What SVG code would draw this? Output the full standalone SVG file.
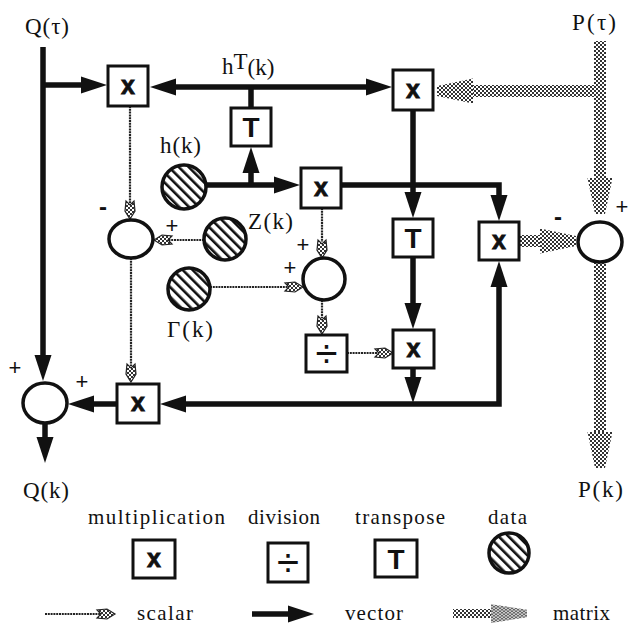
<svg xmlns="http://www.w3.org/2000/svg" xmlns:xlink="http://www.w3.org/1999/xlink" width="630" height="625" viewBox="0 0 630 625">
<style>
.lbl{font-family:'Liberation Serif','Times New Roman',serif;font-size:23px;fill:#111}
.leg{font-family:'Liberation Serif','Times New Roman',serif;font-size:21px;fill:#111}
.sign{font-family:'Liberation Sans',Arial,sans-serif;font-size:22px;fill:#111;text-anchor:middle}
.minus{font-family:'Liberation Sans',Arial,sans-serif;font-weight:bold;font-size:24px;fill:#111;text-anchor:middle}
.box{fill:#fff;stroke:#111;stroke-width:3}
.sum{fill:#fff;stroke:#111;stroke-width:3.5}
.data{fill:url(#hatch);stroke:#111;stroke-width:3.5}
.mx{font-family:'Liberation Sans',Arial,sans-serif;font-weight:bold;font-size:25px;fill:#111;text-anchor:middle;stroke:#111;stroke-width:0.8}
.tt{font-family:'Liberation Sans',Arial,sans-serif;font-weight:bold;font-size:28px;fill:#111;text-anchor:middle}
.dv{font-family:'Liberation Sans',Arial,sans-serif;font-size:40px;fill:#111;text-anchor:middle}
.vec{fill:none;stroke:#111;stroke-width:5.5}
.sca{fill:none;stroke:#222;stroke-width:2.2;stroke-dasharray:2 0.8}
.mat{fill:url(#st)}
</style>
<defs>
<pattern id="st" width="4" height="4" patternUnits="userSpaceOnUse"><rect width="4" height="4" fill="#fff"/><rect width="2" height="2" fill="#333"/><rect x="2" y="2" width="2" height="2" fill="#333"/></pattern>
<pattern id="hatch" width="7" height="7" patternUnits="userSpaceOnUse" patternTransform="rotate(-45)"><rect width="7" height="7" fill="#fff"/><rect width="2.6" height="7" fill="#111"/></pattern>
<path id="vh" d="M0,0 L-26,-8.5 L-26,8.5 z" fill="#111"/>
<path id="sh" d="M0,0 L-8,-5 L-18,-4 L-14,0 L-18,4 L-8,5 z" fill="url(#st)" stroke="#222" stroke-width="1.2"/>
<path id="mh" d="M0,-5 L0,5 L-36,12.5 L-36,-12.5 z" fill="url(#st)"/>
</defs>
<rect width="630" height="625" fill="#fff"/>

<g id="connectors">
  <!-- vector -->
  <path class="vec" d="M43,47 V360"/><use xlink:href="#vh" transform="translate(43,381) rotate(90)"/>
  <path class="vec" d="M43,85 H86"/><use xlink:href="#vh" transform="translate(107,85)"/>
  <path class="vec" d="M170,87 H370"/><use xlink:href="#vh" transform="translate(150,87) rotate(180)"/><use xlink:href="#vh" transform="translate(392,87)"/>
  <path class="vec" d="M251,87 V108"/>
  <path class="vec" d="M206,185 H280"/><use xlink:href="#vh" transform="translate(300,185)"/>
  <path class="vec" d="M251,185 V168"/><use xlink:href="#vh" transform="translate(251,147) rotate(-90)"/>
  <path class="vec" d="M341,185 H499 V200"/><use xlink:href="#vh" transform="translate(499,221) rotate(90)"/>
  <path class="vec" d="M413,110 V198"/><use xlink:href="#vh" transform="translate(413,218) rotate(90)"/>
  <path class="vec" d="M413,257 V310"/><use xlink:href="#vh" transform="translate(413,329) rotate(90)"/>
  <path class="vec" d="M413,368 V382"/><use xlink:href="#vh" transform="translate(413,403) rotate(90)"/>
  <path class="vec" d="M180,404 H499 V280"/><use xlink:href="#vh" transform="translate(160,404) rotate(180)"/><use xlink:href="#vh" transform="translate(499,261) rotate(-90)"/>
  <path class="vec" d="M117,404 H88"/><use xlink:href="#vh" transform="translate(68,404) rotate(180)"/>
  <path class="vec" d="M45,423 V444"/><use xlink:href="#vh" transform="translate(45,463) rotate(90)"/>
  <!-- scalar -->
  <path class="sca" d="M130,106 V203"/><use xlink:href="#sh" transform="translate(130,219) rotate(90)"/>
  <path class="sca" d="M204,240 H168"/><use xlink:href="#sh" transform="translate(154,240) rotate(180)"/>
  <path class="sca" d="M131,258 V366"/><use xlink:href="#sh" transform="translate(131,382) rotate(90)"/>
  <path class="sca" d="M210,287 H289"/><use xlink:href="#sh" transform="translate(303,287)"/>
  <path class="sca" d="M322,208 V242"/><use xlink:href="#sh" transform="translate(322,258) rotate(90)"/>
  <path class="sca" d="M322,300 V318"/><use xlink:href="#sh" transform="translate(322,334) rotate(90)"/>
  <path class="sca" d="M347,353 H379"/><use xlink:href="#sh" transform="translate(393,353)"/>
  <!-- matrix -->
  <rect class="mat" x="594" y="41" width="12" height="140"/><use xlink:href="#mh" transform="translate(600,214) rotate(90)"/>
  <rect class="mat" x="471" y="85" width="129" height="12"/><use xlink:href="#mh" transform="translate(437,91) rotate(180)"/>
  <rect class="mat" x="594" y="262" width="12" height="172"/><use xlink:href="#mh" transform="translate(600,468) rotate(90)"/>
  <rect class="mat" x="518" y="235" width="24" height="12"/><use xlink:href="#mh" transform="translate(576,241)"/>
</g>

<g id="m1"><rect class="box" x="108" y="66" width="40" height="40"/><text class="mx" x="128" y="94">x</text></g>
<g id="m2"><rect class="box" x="393" y="70" width="40" height="40"/><text class="mx" x="413" y="98">x</text></g>
<g id="t1"><rect class="box" x="231" y="108" width="40" height="38"/><text class="tt" x="251" y="137">T</text></g>
<g id="m3"><rect class="box" x="301" y="168" width="40" height="40"/><text class="mx" x="321" y="196">x</text></g>
<g id="t2"><rect class="box" x="393" y="219" width="40" height="38"/><text class="tt" x="413" y="248">T</text></g>
<g id="m4"><rect class="box" x="479" y="222" width="40" height="38"/><text class="mx" x="499" y="249">x</text></g>
<g id="div"><rect class="box" x="306" y="335" width="41" height="37"/><text class="dv" x="326.5" y="367">÷</text></g>
<g id="m6"><rect class="box" x="393" y="330" width="41" height="38"/><text class="mx" x="413.5" y="357">x</text></g>
<g id="m5"><rect class="box" x="117" y="384" width="42" height="39"/><text class="mx" x="138" y="411">x</text></g>

<g id="c1"><ellipse class="sum" cx="131" cy="239" rx="22" ry="19"/></g>
<g id="c2"><ellipse class="sum" cx="324" cy="279" rx="21" ry="21"/></g>
<g id="c3"><ellipse class="sum" cx="600" cy="242" rx="22" ry="20"/></g>
<g id="c4"><ellipse class="sum" cx="45" cy="403" rx="22" ry="20"/></g>

<g id="h"><circle class="data" cx="184" cy="187" r="22"/><text class="lbl" x="160" y="153" textLength="41">h(k)</text></g>
<g id="z"><circle class="data" cx="225" cy="239" r="21"/><text class="lbl" x="248" y="229" textLength="45">Z(k)</text></g>
<g id="gamma"><circle class="data" cx="189" cy="289" r="21"/><text class="lbl" x="167" y="337" textLength="46">Γ(k)</text></g>

<g id="labels">
  <text class="lbl" x="25" y="34" textLength="44">Q(τ)</text>
  <text class="lbl" x="572" y="30" textLength="44">P(τ)</text>
  <text class="lbl" x="222" y="74">h<tspan dy="-5">T</tspan><tspan dy="6">(k)</tspan></text>
  <text class="lbl" x="23" y="498" textLength="46">Q(k)</text>
  <text class="lbl" x="578" y="497" textLength="45">P(k)</text>
  <text class="minus" x="103" y="215">-</text>
  <text class="sign" x="172" y="233">+</text>
  <text class="sign" x="303" y="252">+</text>
  <text class="sign" x="290" y="275">+</text>
  <text class="sign" x="15" y="375">+</text>
  <text class="sign" x="82" y="389">+</text>
  <text class="minus" x="558" y="225">-</text>
  <text class="sign" x="622" y="214">+</text>
</g>

<g id="legend">
  <text class="leg" x="88" y="524" textLength="137">multiplication</text>
  <text class="leg" x="248" y="524" textLength="72">division</text>
  <text class="leg" x="355" y="524" textLength="90">transpose</text>
  <text class="leg" x="488" y="524" textLength="39">data</text>
  <g id="leg-mult"><rect class="box" x="133" y="540" width="42" height="38"/><text class="mx" x="154" y="567">x</text></g>
  <g id="leg-div"><rect class="box" x="268" y="543" width="40" height="39"/><text class="dv" x="288" y="576">÷</text></g>
  <g id="leg-t"><rect class="box" x="375" y="540" width="42" height="37"/><text class="tt" x="396" y="569">T</text></g>
  <g id="leg-data"><circle class="data" cx="509" cy="553" r="20"/></g>
  <path class="sca" d="M45,614 H100"/><use xlink:href="#sh" transform="translate(115,614)"/>
  <text class="leg" x="137" y="620" textLength="56">scalar</text>
  <path class="vec" d="M252,614 H292"/><use xlink:href="#vh" transform="translate(314,614)"/>
  <text class="leg" x="345" y="620" textLength="58">vector</text>
  <rect class="mat" x="453" y="609" width="40" height="9"/><use xlink:href="#mh" transform="translate(527,613.5) scale(1,0.75)"/>
  <text class="leg" x="553" y="620" textLength="57">matrix</text>
</g>
</svg>
